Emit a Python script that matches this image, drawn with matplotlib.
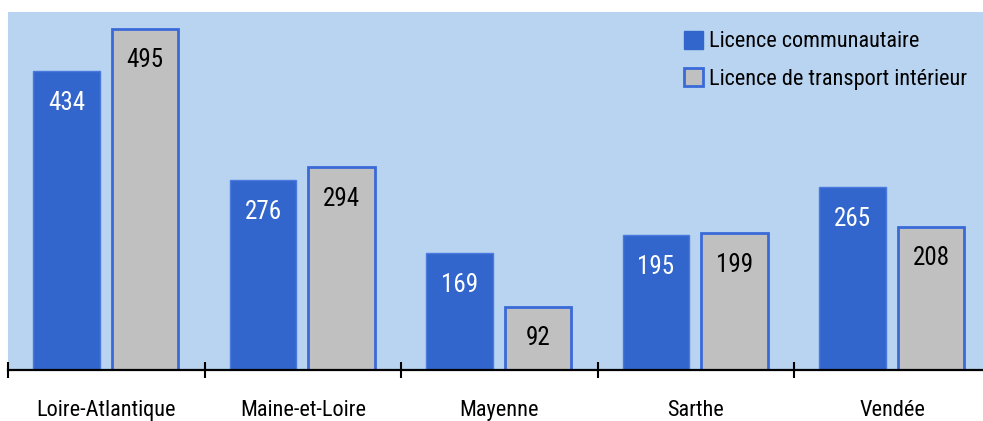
import numpy as np
import matplotlib.pyplot as plt
from matplotlib import font_manager
from matplotlib.patches import Patch

# Pick a condensed family if one is installed (preferred ones first)
preferred = ["Roboto Condensed", "Roboto", "Liberation Sans Narrow",
             "Open Sans Condensed", "Open Sans", "Noto Sans Condensed",
             "Noto Sans", "DejaVu Sans Condensed", "DejaVu Sans"]
narrow = [f for f in font_manager.fontManager.ttflist
          if f.style == "normal"
          and (f.stretch in ("condensed", "semi-condensed", "extra-condensed")
               or "Narrow" in f.name or "Condensed" in f.name)]
narrow.sort(key=lambda f: (preferred.index(f.name) if f.name in preferred else 99,
                           abs(int(f.weight) - 400) if str(f.weight).isdigit() else 50))
if narrow:
    plt.rcParams["font.family"] = [narrow[0].name, "DejaVu Sans"]
    plt.rcParams["font.stretch"] = narrow[0].stretch
    plt.rcParams["font.weight"] = narrow[0].weight
else:
    plt.rcParams["font.family"] = ["Roboto", "DejaVu Sans"]

# Data
departements = ["Loire-Atlantique", "Maine-et-Loire", "Mayenne", "Sarthe", "Vendée"]
licence_communautaire = [434, 276, 169, 195, 265]
licence_transport_interieur = [495, 294, 92, 199, 208]
series_names = ["Licence communautaire", "Licence de transport intérieur"]

blue = "#3366cc"
grey = "#c0c0c0"
panel = "#b8d4f0"

fig = plt.figure(figsize=(9.83, 4.21), dpi=100)
ax = fig.add_axes([8 / 983, 51 / 421, 982.5 / 983, 358 / 421])
ax.set_facecolor(panel)

x = np.arange(len(departements))
width = 0.34
b1 = ax.bar(x + 0.298, licence_communautaire, width, color=blue,
            edgecolor="#4a7ae0", linewidth=1)
b2 = ax.bar(x + 0.697, licence_transport_interieur, width, color=grey,
            edgecolor="#3a6ad8", linewidth=2)

# Value labels inside the top of each bar
for bars, col in [(b1, "white"), (b2, "black")]:
    for rect in bars:
        h = rect.get_height()
        ax.annotate(f"{h:.0f}", (rect.get_x() + rect.get_width() / 2, h),
                    xytext=(0, -23), textcoords="offset points",
                    ha="center", va="center", color=col, fontsize=18)

ax.set_xlim(0, 5)
ax.set_ylim(0, 519)

# Axis styling
for side in ["top", "right", "left"]:
    ax.spines[side].set_visible(False)
ax.spines["bottom"].set_linewidth(1.6)
ax.set_yticks([])
ax.set_xticks(np.arange(0, 6))
ax.set_xticklabels([])
ax.set_xticks(x + 0.5, minor=True)
ax.set_xticklabels(departements, minor=True, fontsize=16)
ax.tick_params(axis="x", which="major", direction="inout", length=11.5, width=1.5)
ax.tick_params(axis="x", which="minor", length=0, pad=21.5)

# Legend
handles = [Patch(facecolor=blue, edgecolor=blue),
           Patch(facecolor=grey, edgecolor="#3a6ad8", linewidth=2)]
ax.legend(handles, series_names, loc="upper left",
          bbox_to_anchor=(657 / 982.5, 1.0), frameon=False, fontsize=16,
          handlelength=0.85, handleheight=0.85, handletextpad=0.3,
          labelspacing=0.7, borderaxespad=0.45)

plt.savefig("out.png", dpi=100)
